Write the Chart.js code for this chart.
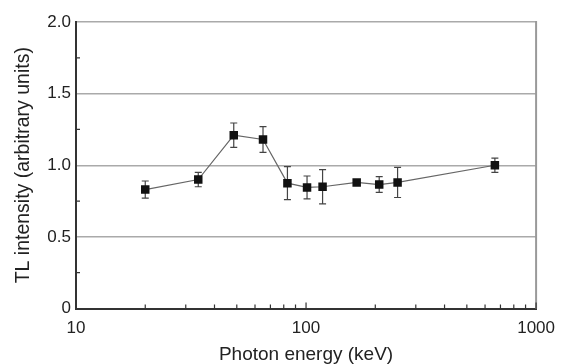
<!DOCTYPE html>
<html>
<head>
<meta charset="utf-8">
<script src="https://cdn.jsdelivr.net/npm/chart.js@4/dist/chart.umd.min.js"></script>
<style>
  html, body { margin: 0; padding: 0; background: #fff; }
  #wrap { width: 565px; height: 364px; }
</style>
</head>
<body>
<div id="wrap"><canvas id="tl_chart" width="565" height="364"></canvas></div>
<script>
// photon energy (keV) and TL response
const energia = [20, 34, 48.5, 65, 83, 101, 118, 166, 208, 250, 662];
const intensidad = [0.83, 0.90, 1.21, 1.18, 0.875, 0.845, 0.85, 0.88, 0.865, 0.88, 1.0];
const errores = [0.06, 0.05, 0.085, 0.09, 0.115, 0.08, 0.12, 0, 0.055, 0.105, 0.05];
const yTicks = [0, 0.5, 1.0, 1.5, 2.0];
const xTicks = [10, 100, 1000];

const puntos = energia.map((e, i) => ({ x: e, y: intensidad[i] }));

// error bars drawn under the markers
const barrasError = {
  id: "barrasError",
  beforeDatasetsDraw(chart) {
    const ctx = chart.ctx;
    const xs = chart.scales.x, ys = chart.scales.y;
    ctx.save();
    ctx.strokeStyle = "#444";
    ctx.lineWidth = 1.2;
    puntos.forEach((p, i) => {
      if (!errores[i]) return;
      const px = xs.getPixelForValue(p.x);
      const top = ys.getPixelForValue(p.y + errores[i]);
      const bot = ys.getPixelForValue(p.y - errores[i]);
      ctx.beginPath();
      ctx.moveTo(px, top); ctx.lineTo(px, bot);
      ctx.moveTo(px - 3.5, top); ctx.lineTo(px + 3.5, top);
      ctx.moveTo(px - 3.5, bot); ctx.lineTo(px + 3.5, bot);
      ctx.stroke();
    });
    ctx.restore();
  }
};

// right border + inward minor ticks
const marco = {
  id: "marco",
  afterDraw(chart) {
    const ctx = chart.ctx;
    const a = chart.chartArea;
    const xs = chart.scales.x, ys = chart.scales.y;
    ctx.save();
    ctx.strokeStyle = "#999";
    ctx.lineWidth = 2;
    ctx.beginPath();
    ctx.moveTo(a.right, a.top - 1); ctx.lineTo(a.right, a.bottom);
    ctx.stroke();
    ctx.strokeStyle = "#333";
    ctx.lineWidth = 1.2;
    ctx.beginPath();
    for (let d = 10; d < 1000; d *= 10) {
      for (let k = 2; k <= 10; k++) {
        const px = xs.getPixelForValue(d * k);
        const len = k === 10 ? 6 : 4;
        ctx.moveTo(px, a.bottom); ctx.lineTo(px, a.bottom - len);
      }
    }
    for (let v = 0.25; v < 2; v += 0.5) {
      const py = ys.getPixelForValue(v);
      ctx.moveTo(a.left, py); ctx.lineTo(a.left + 4, py);
    }
    ctx.stroke();
    ctx.restore();
  }
};

const ctx1 = document.getElementById("tl_chart").getContext("2d");
const chart1 = new Chart(ctx1, {
  type: "line",
  data: {
    datasets: [
      {
        data: puntos,
        borderColor: "#666",
        borderWidth: 1.2,
        pointStyle: "rect",
        pointRadius: 6,
        pointBackgroundColor: "#111",
        pointBorderColor: "#111",
        pointBorderWidth: 0,
        tension: 0,
      },
    ],
  },
  options: {
    responsive: false,
    animation: false,
    layout: { padding: { top: 22, right: 28, left: 0, bottom: 0 } },
    plugins: {
      legend: { display: false },
      tooltip: { enabled: false },
    },
    scales: {
      x: {
        type: "logarithmic",
        min: 10,
        max: 1000,
        afterBuildTicks: (s) => { s.ticks = xTicks.map((v) => ({ value: v })); },
        afterFit: (s) => { s.height = 55.5; },
        grid: { display: false, drawTicks: false },
        border: { display: true, color: "#333", width: 2 },
        ticks: {
          autoSkip: false,
          maxRotation: 0,
          padding: 10,
          color: "#222",
          font: { family: "Liberation Sans", size: 17 },
          callback: (v) => String(v),
        },
        title: {
          display: true,
          text: "Photon energy (keV)",
          color: "#222",
          font: { family: "Liberation Sans", size: 19, lineHeight: 1 },
          padding: { top: 0, bottom: 0 },
        },
      },
      y: {
        min: 0,
        max: 2,
        afterBuildTicks: (s) => { s.ticks = yTicks.map((v) => ({ value: v })); },
        afterFit: (s) => { s.width = 76; },
        grid: {
          drawTicks: false,
          lineWidth: 1.5,
          color: (c) => (c.tick && c.tick.value === 0 ? "rgba(0,0,0,0)" : "#aaa"),
        },
        border: { display: true, color: "#333", width: 2 },
        ticks: {
          padding: 5,
          color: "#222",
          font: { family: "Liberation Sans", size: 17 },
          callback: (v) => (v === 0 ? "0" : v.toFixed(1)),
        },
        title: {
          display: true,
          text: "TL intensity (arbitrary units)",
          color: "#222",
          font: { family: "Liberation Sans", size: 19.5, lineHeight: 1 },
          padding: { top: 14, bottom: 0 },
        },
      },
    },
  },
  plugins: [barrasError, marco],
});
</script>
</body>
</html>
